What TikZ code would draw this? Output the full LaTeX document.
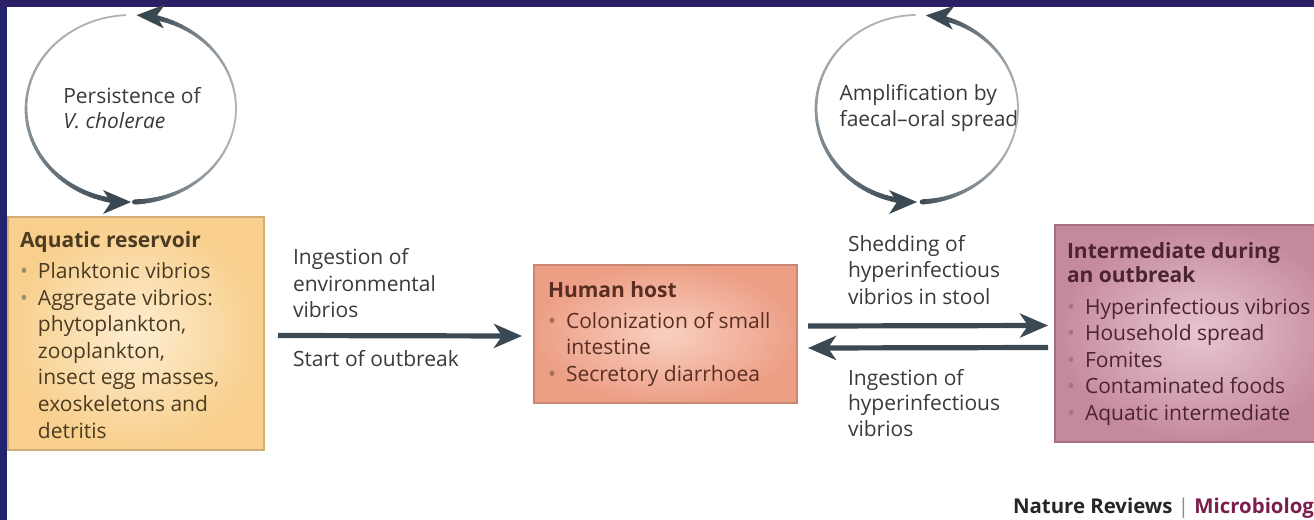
\documentclass[tikz,border=0pt]{standalone}
\usepackage{fontspec}
\setmainfont{Open Sans}
\usetikzlibrary{arrows.meta}

\definecolor{navytop}{HTML}{2C1F66}
\definecolor{navyside}{HTML}{22246E}
\definecolor{arcdark}{HTML}{3A4852}
\definecolor{arclight}{HTML}{AEB5BA}
\definecolor{flow}{HTML}{3B4954}
\definecolor{label}{HTML}{3A3A3A}
\definecolor{resIn}{HTML}{FDEDD0}
\definecolor{resOut}{HTML}{F8CF8C}
\definecolor{resLine}{HTML}{D2AE76}
\definecolor{resText}{HTML}{4A3B22}
\definecolor{resDot}{HTML}{9C8C6C}
\definecolor{hostIn}{HTML}{F8D0C0}
\definecolor{hostOut}{HTML}{ED9F86}
\definecolor{hostLine}{HTML}{C98672}
\definecolor{hostText}{HTML}{5A2E22}
\definecolor{hostDot}{HTML}{A26C5C}
\definecolor{midIn}{HTML}{E8C6CF}
\definecolor{midOut}{HTML}{C4899B}
\definecolor{midLine}{HTML}{A67082}
\definecolor{midText}{HTML}{4C2331}
\definecolor{midDot}{HTML}{A27484}
\definecolor{journal}{HTML}{7A1E4B}

% bullet with hanging indent
\newcommand\itm[1]{\makebox[9pt][l]{\textcolor{#1}{\textbullet}}}
\newcommand\ind{\hspace*{9pt}}

% one half of a cycle: elliptical arc, darkness given as a function of \s in [0,1]
\newcommand\gradarc[7]{%
  \foreach \k in {0,...,59}{%
    \pgfmathsetmacro\sa{\k/60}%
    \pgfmathsetmacro\sb{(\k+1)/60}%
    \pgfmathsetmacro\ta{#5+(#6-#5)*\sa}%
    \pgfmathsetmacro\tb{#5+(#6-#5)*\sb}%
    \pgfmathsetmacro\s{(\sa+\sb)/2}%
    \pgfmathsetmacro\d{#7}%
    \pgfmathtruncatemacro\pc{100*\d}%
    \pgfmathsetmacro\lw{0.9+1.7*\d}%
    \draw[line cap=round, line width=\lw pt, color=arcdark!\pc!arclight]
      ({#1+#3*cos(\ta)},{#2-#4*sin(\ta)}) -- ({#1+#3*cos(\tb)},{#2-#4*sin(\tb)});
  }}

% arrow head sitting on the ellipse at angle #5, pointing counter-clockwise
\newcommand\archead[5]{%
  \pgfmathsetmacro\hx{-#3*sin(#5)}%
  \pgfmathsetmacro\hy{#4*cos(#5)}%
  \pgfmathsetmacro\hang{atan2(\hy,\hx)}%
  \fill[arcdark, shift={({#1+#3*cos(#5)},{#2-#4*sin(#5)})}, rotate=\hang]
    (0,0) -- (-28,-12) -- (-20,0) -- (-28,12) -- cycle;
}

\begin{document}
\begin{tikzpicture}[x=0.5pt, y=-0.5pt,
  every node/.style={inner sep=0pt, outer sep=0pt},
  box/.style={draw, line width=0.6pt, shading=radial},
  % multi-line texts are placed by the baseline of their last line
  boxtext/.style={align=left, anchor=base west, font=\fontsize{10.5}{13.3}\selectfont},
  flowtext/.style={align=left, anchor=base west, text=label, font=\fontsize{10.5}{13.2}\selectfont},
  flowarrow/.style={draw=flow, line width=2.6pt, -{Stealth[length=14pt, width=12pt, inset=4pt]}}]

\useasboundingbox (0,0) rectangle (1314,520);
\clip (0,0) rectangle (1314,520);
\fill[white] (0,0) rectangle (1314,520);
\fill[navyside] (0,0) rectangle (7,520);
\fill[navytop] (0,0) rectangle (1314,7);

% ---- the three stages ----
\node[box, draw=resLine, inner color=resIn, outer color=resOut,
      minimum width=128pt, minimum height=116.5pt] (res) at (136,333.5) {};
\node[box, draw=hostLine, inner color=hostIn, outer color=hostOut,
      minimum width=131.5pt, minimum height=69pt] (host) at (665.5,334) {};
\node[box, draw=midLine, inner color=midIn, outer color=midOut,
      minimum width=145pt, minimum height=108.5pt] (mid) at (1200,333.5) {};

\node[boxtext, text=resText] (restxt) at (20,438) {%
  \textbf{Aquatic reservoir}\\[2.2pt]
  \itm{resDot}Planktonic vibrios\\
  \itm{resDot}Aggregate vibrios:\\
  \ind phytoplankton,\\
  \ind zooplankton,\\
  \ind insect egg masses,\\
  \ind exoskeletons and\\
  \ind detritis};

\node[boxtext, text=hostText] (hosttxt) at (548,381.5) {%
  \textbf{Human host}\\[2.2pt]
  \itm{hostDot}Colonization of small\\
  \ind intestine\\
  \itm{hostDot}Secretory diarrhoea};

\node[boxtext, text=midText] (midtxt) at (1067,420.5) {%
  \textbf{Intermediate during}\\[-1.3pt]
  \textbf{an outbreak}\\[2.5pt]
  \itm{midDot}Hyperinfectious vibrios\\
  \itm{midDot}Household spread\\
  \itm{midDot}Fomites\\
  \itm{midDot}Contaminated foods\\
  \itm{midDot}Aquatic intermediate};

% ---- transitions between stages ----
\draw[flowarrow] ([xshift=7pt,yshift=-1pt]res.east) -- ([xshift=-6pt,yshift=-1pt]host.west);
\draw[flowarrow] ([xshift=5.5pt,yshift=4pt]host.east) -- ([xshift=-3.5pt,yshift=4pt]mid.west);
\draw[flowarrow] ([xshift=-3.5pt,yshift=-7pt]mid.west) -- ([xshift=5.5pt,yshift=-7pt]host.east);

\node[flowtext] (ingenv) at (293,317.5) {Ingestion of\\environmental\\vibrios};
\node[flowtext] (start) at (293,366) {Start of outbreak};
\node[flowtext] (shed) at (848,304) {Shedding of\\hyperinfectious\\vibrios in stool};
\node[flowtext, font=\fontsize{10.5}{12.6}\selectfont] (inghyp) at (848,436) {Ingestion of\\hyperinfectious\\vibrios};

% ---- persistence cycle ----
\node[align=left, text=label, font=\fontsize{10.5}{12.6}\selectfont] (persist) at (132,108)
  {Persistence of\\\textit{V. cholerae}};
\gradarc{131}{108.5}{105}{93.5}{-88}{78}{(2*\s-1)*(2*\s-1)}
\archead{131}{108.5}{105}{93.5}{87}
\gradarc{131}{108.5}{105}{93.5}{93}{261}{\s*\s}
\archead{131}{108.5}{105}{93.5}{270}

% ---- amplification cycle ----
\node[align=left, text=label, font=\fontsize{10.5}{12.6}\selectfont] (amplify) at (929,108)
  {Amplification by\\faecal–oral spread};
\gradarc{917}{108.5}{101}{93.5}{-87}{76}{(2*\s-1)*(2*\s-1)}
\archead{917}{108.5}{101}{93.5}{85}
\gradarc{917}{108.5}{101}{93.5}{91}{261}{\s*\s}
\archead{917}{108.5}{101}{93.5}{270}

% ---- journal credit ----
\node[anchor=base west, font=\fontsize{10.2}{12}\selectfont\bfseries] (credit) at (1013,513)
  {\textcolor{black!85}{Nature Reviews} \textcolor{black!45}{\mdseries|} \textcolor{journal}{Microbiology}};
\end{tikzpicture}
\end{document}
